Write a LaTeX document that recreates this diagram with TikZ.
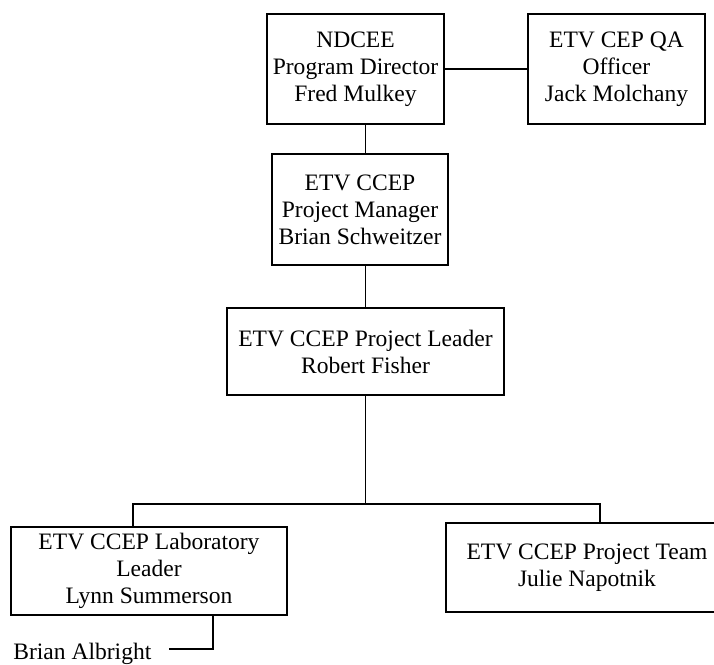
\documentclass[tikz,border=0pt]{standalone}
\usepackage{fontspec}
\setmainfont{Liberation Serif}
\usepackage{tikz}
\usetikzlibrary{calc}

\begin{document}
\begin{tikzpicture}[x=0.02cm, y=-0.02cm, line width=0.75pt,
    font=\fontsize{13.4}{15.4}\selectfont,
    orgbox/.style={draw, align=center, inner sep=0pt}]
  \useasboundingbox (0,0) rectangle (714,664);

  \node[orgbox, minimum width=3.54cm, minimum height=2.2cm]
        at (355.5,69) (ndcee) {NDCEE\\Program Director\\Fred Mulkey};
  \node[orgbox, minimum width=3.54cm, minimum height=2.2cm]
        at (616.5,69) (qa) {ETV CEP QA\\Officer\\Jack Molchany};
  \node[orgbox, minimum width=3.52cm, minimum height=2.22cm]
        at (360,209.5) (pm) {ETV CCEP\\Project Manager\\Brian Schweitzer};
  \node[orgbox, minimum width=5.54cm, minimum height=1.74cm]
        at (365.5,351.5) (lead) {ETV CCEP Project Leader\\Robert Fisher};
  \node[orgbox, minimum width=5.52cm, minimum height=1.76cm]
        at (149,571) (lab) {ETV CCEP Laboratory\\Leader\\Lynn Summerson};
  \node[orgbox, minimum width=5.64cm, minimum height=1.78cm]
        at (587,567.5) (team) {ETV CCEP Project Team\\Julie Napotnik};
  \node[anchor=base east, inner xsep=0.34cm] at (169,659) (albright) {Brian Albright};

  \coordinate (busL) at (133,504);
  \coordinate (busR) at (600,504);
  \coordinate (labdrop) at (213,649);

  \draw (ndcee.east) -- (qa.west);
  \draw (ndcee.south -| lead.north) -- (pm.north -| lead.north);
  \draw (pm.south -| lead.north) -- (lead.north);
  \draw (lead.south) -- (lead.south |- busL);
  \draw (lab.north -| busL) -- (busL) -- (busR) -- (team.north -| busR);
  \draw (lab.south -| labdrop) -- (labdrop) -- (labdrop -| albright.east);
\end{tikzpicture}
\end{document}
